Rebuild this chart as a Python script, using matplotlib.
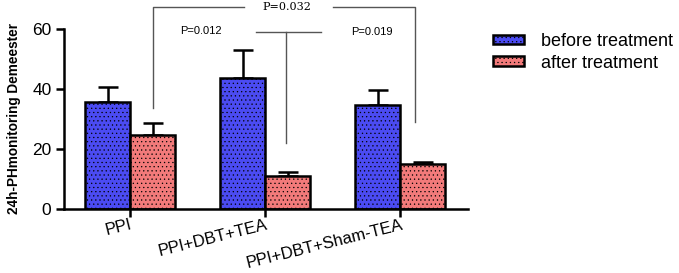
import numpy as np
import matplotlib
matplotlib.use("Agg")
import matplotlib.pyplot as plt
from matplotlib.patches import Patch

# datos
groups = ["PPI", "PPI+DBT+TEA", "PPI+DBT+Sham-TEA"]
before = [35.7, 43.7, 34.7]
before_err = [5.0, 9.2, 4.9]
after = [24.8, 11.0, 15.0]
after_err = [4.0, 1.2, 0.8]
series_names = ["before treatment", "after treatment"]

blue = "#4b4bf2"
red = "#f27a7a"

plt.rcParams["font.family"] = ["Liberation Sans", "DejaVu Sans"]
plt.rcParams["hatch.color"] = "#3a3a70"
plt.rcParams["hatch.linewidth"] = 0.4

fig = plt.figure(figsize=(6.79, 2.73), dpi=100)
ax = fig.add_axes([64 / 679, 64 / 273, 404 / 679, 180 / 273])

x = np.arange(len(groups))
w = 1 / 3
ax.bar(x - w / 2, before, w, color=blue, edgecolor="black", linewidth=1.8,
       hatch="....", zorder=2)
ax.bar(x + w / 2, after, w, color=red, edgecolor="black", linewidth=1.8,
       hatch="....", zorder=2)
# barras de error solo hacia arriba
ax.errorbar(x - w / 2, before, yerr=[np.zeros(3), before_err], fmt="none",
            ecolor="black", elinewidth=1.8, capsize=7.5, capthick=1.8, zorder=1)
ax.errorbar(x + w / 2, after, yerr=[np.zeros(3), after_err], fmt="none",
            ecolor="black", elinewidth=1.8, capsize=7.5, capthick=1.8, zorder=1)

ax.set_xlim(-0.49, 2.5)
ax.set_ylim(0, 60)
ax.set_yticks([0, 20, 40, 60])
ax.set_xticks(x)
ax.set_xticklabels(groups, rotation=14, ha="right", rotation_mode="anchor",
                   fontsize=12)
ax.tick_params(axis="y", labelsize=12.5, width=1.8, length=6, pad=3)
ax.tick_params(axis="x", width=1.8, length=6, pad=0)
for s in ["top", "right"]:
    ax.spines[s].set_visible(False)
for s in ["left", "bottom"]:
    ax.spines[s].set_linewidth(1.8)

ax.set_ylabel("24h-PHmonitoring Demeester", fontsize=9.8, fontweight="bold",
              labelpad=8)

# lineas de significancia
lc = "#555555"
kw = dict(color=lc, lw=1.0, clip_on=False)
ax.plot([0 + w / 2, 0 + w / 2, 0.84], [33.7, 67.4, 67.4], **kw)
ax.plot([1.5, 2.11, 2.11], [67.4, 67.4, 29.0], **kw)
ax.text(1.16, 67.4, "P=0.032", ha="center", va="center", fontsize=8,
        family="DejaVu Serif", clip_on=False)
ax.plot([0.93, 1.41], [59.0, 59.0], **kw)
ax.plot([1 + w / 2 - 0.01, 1 + w / 2 - 0.01], [59.0, 22.0], **kw)
ax.text(0.52, 59.5, "P=0.012", ha="center", va="center", fontsize=8)
ax.text(1.79, 59.0, "P=0.019", ha="center", va="center", fontsize=8)

handles = [Patch(facecolor=blue, edgecolor="black", hatch="....", linewidth=1.8),
           Patch(facecolor=red, edgecolor="black", hatch="....", linewidth=1.8)]
fig.legend(handles, series_names, loc="upper left",
           bbox_to_anchor=(493 / 679, 1 - 33 / 273), frameon=False,
           fontsize=13, handlelength=1.7, handleheight=0.45,
           handletextpad=0.95, labelspacing=0.25, borderpad=0, borderaxespad=0)

fig.savefig("out.png", dpi=100)
